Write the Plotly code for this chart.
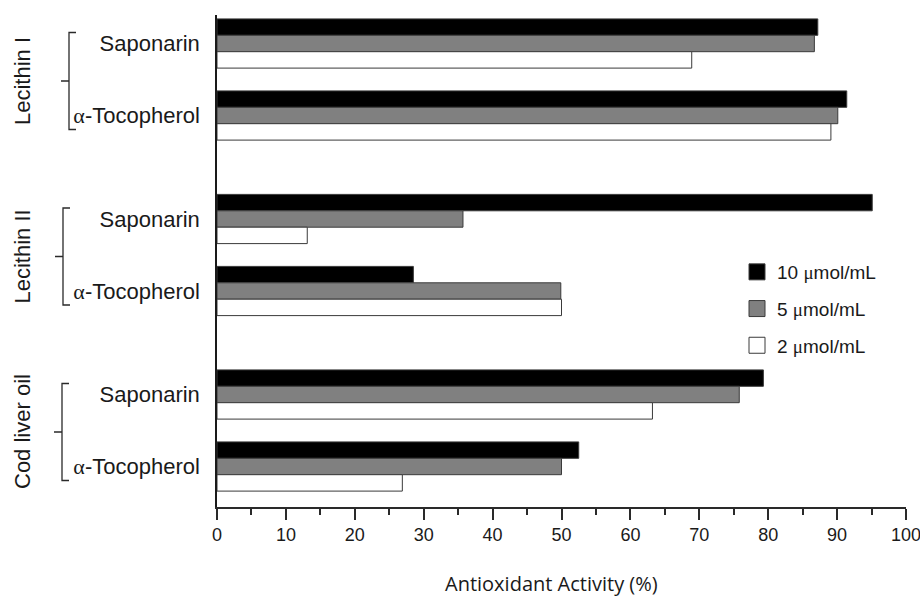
import plotly.graph_objects as go

# ---------------- data ----------------
groups = ["Lecithin I", "Lecithin II", "Cod liver oil"]
compounds = ["Saponarin", "α-Tocopherol"]
series_names = ["10 μmol/mL", "5 μmol/mL", "2 μmol/mL"]
v10 = [87.2, 91.4, 95.1, 28.5, 79.3, 52.5]
v5 = [86.7, 90.1, 35.7, 49.9, 75.8, 50.0]
v2 = [68.9, 89.1, 13.1, 50.0, 63.2, 26.9]
x_ticks = [0, 10, 20, 30, 40, 50, 60, 70, 80, 90, 100]

# ---------------- layout constants (pixel-like units) ----------------
W, H = 920, 599
L, R, T, B = 217, 14, 15, 92
PW = W - L - R
BASE, GSTEP, SSTEP = 43.5, 175.5, 72.0
BARW = 16.4
fills = ["#000000", "#808080", "#ffffff"]
offsets = [-1.5 * BARW, -0.5 * BARW, 0.5 * BARW]


def px2paperx(px):
    return (px - L) / PW


def py2papery(py):
    return 1 - (py - T) / (H - T - B)


centers = []
labels = []
for g in range(len(groups)):
    for i, c in enumerate(compounds):
        centers.append(BASE + g * GSTEP + i * SSTEP)
        labels.append(c)

alpha_html = '<span style="font-family:Liberation Serif">α</span>'
mu_html = '<span style="font-family:Liberation Serif">μ</span>'
ticktext = [lab.replace("α", alpha_html) for lab in labels]

fig = go.Figure()
for name, vals, col, off in zip(series_names, [v10, v5, v2], fills, offsets):
    fig.add_trace(go.Bar(
        x=vals, y=centers, orientation="h",
        name=name.replace("μ", mu_html),
        legendgroup=name, showlegend=False,
        width=BARW, offset=off,
        marker=dict(color=col, line=dict(color="#3a3a3a", width=1)),
    ))
    # legend entry with a larger square swatch
    fig.add_trace(go.Scatter(
        x=[None], y=[None], mode="markers",
        name=name.replace("μ", mu_html),
        legendgroup=name, showlegend=True,
        marker=dict(symbol="square", size=16, color=col,
                    line=dict(color="#3a3a3a", width=1)),
    ))

# brackets
br_x = [69, 63, 62]
for g in range(len(groups)):
    top = BASE + g * GSTEP - 11
    bot = BASE + g * GSTEP + SSTEP + 14
    mid = (top + bot) / 2
    xv = px2paperx(br_x[g])
    xs = px2paperx(br_x[g] + 7)
    xm = px2paperx(br_x[g] - 8)
    path = f"M{xs},{top} L{xv},{top} L{xv},{bot} L{xs},{bot} M{xv},{mid} L{xm},{mid}"
    fig.add_shape(type="path", path=path, xref="paper", yref="y",
                  line=dict(color="#2a2a2a", width=1.3), layer="above")
    fig.add_annotation(text=groups[g], textangle=-90, xref="paper", yref="y",
                       x=px2paperx(22), y=(top + bot) / 2, showarrow=False,
                       xanchor="center", yanchor="middle",
                       font=dict(family="Liberation Sans", size=22, color="#1a1a1a"))

fig.add_annotation(text="Antioxidant Activity (%)", xref="paper", yref="paper",
                   x=px2paperx(551), y=py2papery(583), showarrow=False,
                   xanchor="center", yanchor="middle",
                   font=dict(family="Open Sans", size=20, color="#1a1a1a"))

fig.update_layout(
    width=W, height=H,
    margin=dict(l=L, r=R, t=T, b=B, autoexpand=False),
    paper_bgcolor="white", plot_bgcolor="white",
    barmode="overlay",
    showlegend=True,
    legend=dict(x=px2paperx(737), y=py2papery(253), xanchor="left", yanchor="top",
                bgcolor="rgba(0,0,0,0)", tracegroupgap=9, itemsizing="trace",
                font=dict(family="Liberation Sans", size=19, color="#1a1a1a")),
    xaxis=dict(range=[0, 100], tickvals=x_ticks, ticks="outside", ticklen=11,
               tickwidth=1.5, tickcolor="#2a2a2a", ticklabeloverflow="allow",
               minor=dict(dtick=5, ticks="outside", ticklen=6, tickwidth=1.5, tickcolor="#2a2a2a"),
               showline=True, linecolor="#2a2a2a", linewidth=1.5,
               showgrid=False, zeroline=False,
               tickfont=dict(family="Liberation Sans", size=18, color="#1a1a1a")),
    yaxis=dict(range=[H - B, T], tickvals=centers, ticktext=ticktext, ticks="",
               showline=True, linecolor="#1a1a1a", linewidth=1.5,
               showgrid=False, zeroline=False, ticklabelstandoff=11,
               tickfont=dict(family="Liberation Sans", size=22, color="#1a1a1a")),
)

fig.write_html("out.html")
